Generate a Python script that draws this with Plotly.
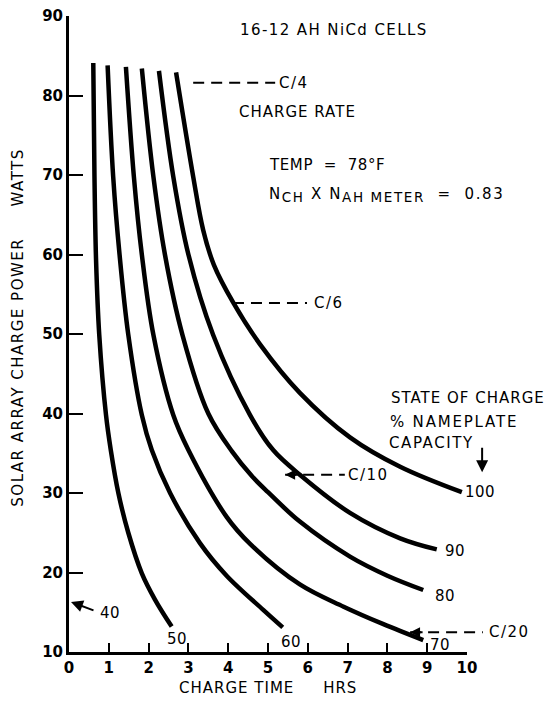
import plotly.graph_objects as go

# ---- data (charge time in hrs, power in watts) ----
soc_labels = ["50", "60", "70", "80", "90", "100"]

time_50 = [0.61, 0.64, 0.68, 0.76, 0.93, 1.05, 1.24, 1.49, 1.83, 2.16, 2.58]
power_50 = [84.1, 69.8, 59.3, 49.9, 39.8, 35.4, 30.0, 25.0, 19.9, 16.6, 13.2]

time_60 = [0.97, 1.11, 1.27, 1.49, 1.83, 2.08, 2.54, 3.29, 3.96, 4.88, 5.37]
power_60 = [83.8, 69.8, 60.0, 49.9, 39.8, 35.4, 30.0, 23.7, 19.6, 15.3, 13.1]

time_70 = [1.43, 1.63, 1.83, 2.12, 2.62, 3.0, 3.96, 4.55, 5.8, 6.9, 7.9, 8.9]
power_70 = [83.6, 69.8, 60.0, 49.9, 39.8, 35.4, 27.0, 23.6, 18.5, 15.7, 13.5, 11.5]

time_80 = [1.83, 2.12, 2.41, 2.85, 3.5, 4.1, 4.6, 5.0, 5.8, 7.06, 8.0, 8.9]
power_80 = [83.4, 69.8, 60.0, 49.9, 40.0, 35.2, 32.1, 30.1, 26.4, 22.0, 19.6, 17.8]

time_90 = [2.26, 2.62, 3.0, 3.62, 4.55, 5.13, 5.8, 7.06, 8.32, 9.24]
power_90 = [83.1, 69.8, 60.0, 49.9, 39.8, 35.4, 32.3, 27.5, 24.3, 22.9]

time_100 = [2.69, 3.12, 3.37, 3.64, 4.12, 4.80, 5.80, 7.06, 8.32, 9.87]
power_100 = [82.9, 69.8, 63.1, 58.7, 54.0, 48.7, 42.6, 37.0, 33.3, 30.1]

# curve end labels (state of charge) positions
label_time = [2.71, 5.58, 9.32, 9.45, 9.70, 10.32]
label_power = [11.6, 11.3, 10.9, 17.0, 22.7, 30.1]

# charge-rate reference lines
rate_names = ["C/4", "C/6", "C/10", "C/20"]
rate_start = [3.12, 4.12, 5.43, 8.57]
rate_end = [5.18, 5.98, 6.93, 10.4]
rate_power = [81.6, 53.9, 32.3, 12.5]
rate_text_x = [5.22, 6.10, 6.96, 10.50]

x_ticks = list(range(0, 11))
y_ticks = list(range(10, 100, 10))

X_RANGE = [0, 10]
Y_RANGE = [10, 90]


def xp(x):
    return (x - X_RANGE[0]) / (X_RANGE[1] - X_RANGE[0])


def yp(y):
    return (y - Y_RANGE[0]) / (Y_RANGE[1] - Y_RANGE[0])


FONT = "DejaVu Sans"


def spaced(s, ls=1.5):
    return '<span style="letter-spacing:%.1fpx">%s</span>' % (ls, s)


fig = go.Figure()

curves = [
    (time_50, power_50), (time_60, power_60), (time_70, power_70),
    (time_80, power_80), (time_90, power_90), (time_100, power_100),
]
for (t, p), name in zip(curves, soc_labels):
    fig.add_trace(go.Scatter(
        x=t, y=p, mode="lines", name=name,
        line=dict(color="black", width=4.5, shape="spline", smoothing=1.0),
        hoverinfo="skip", showlegend=False,
    ))

annotations = []
shapes = []


def text(x, y, s, size=15, xanchor="left", ls=1.5):
    annotations.append(dict(
        x=xp(x), y=yp(y), xref="paper", yref="paper", text=spaced(s, ls),
        showarrow=False, xanchor=xanchor, yanchor="middle",
        font=dict(family=FONT, size=size, color="black"),
    ))


# state-of-charge labels at curve ends
for lab, tx, ty in zip(soc_labels, label_time, label_power):
    text(tx, ty, lab, size=15, xanchor="center", ls=0.5)

# "40" label with pointer to the axis
text(1.03, 14.9, "40", size=15, xanchor="center", ls=0.5)
annotations.append(dict(
    x=xp(0.05), y=yp(16.3), xref="paper", yref="paper", text="",
    showarrow=True, arrowhead=2, arrowsize=1.2, arrowwidth=2, arrowcolor="black",
    ax=24, ay=9,
))

# charge-rate dashed lines and labels
for name, x0, x1, yv, tx in zip(rate_names, rate_start, rate_end, rate_power, rate_text_x):
    shapes.append(dict(
        type="line", xref="paper", yref="paper",
        x0=xp(x0), x1=xp(x1), y0=yp(yv), y1=yp(yv),
        line=dict(color="black", width=2, dash="11px,7px"),
    ))
    text(tx, yv, name, size=15)

# small arrowheads at the left end of C/10 and C/20 lines
for x0, yv in [(rate_start[2], rate_power[2]), (rate_start[3], rate_power[3])]:
    annotations.append(dict(
        x=xp(x0), y=yp(yv), xref="paper", yref="paper", text="",
        showarrow=True, arrowhead=2, arrowsize=1, arrowwidth=2, arrowcolor="black",
        ax=14, ay=0,
    ))

text(4.25, 88.2, "16-12 AH NiCd CELLS", size=15, ls=1.4)
text(4.22, 77.9, "CHARGE RATE", size=15, ls=1.0)
text(4.98, 71.3, "TEMP  =  78°F", size=15, ls=0.6)
annotations.append(dict(
    x=xp(4.98), y=yp(67.5), xref="paper", yref="paper", showarrow=False,
    xanchor="left", yanchor="middle",
    text='<span style="letter-spacing:1.6px">N<sub><span style="font-size:13.5px">CH</span></sub>'
         ' X N<sub><span style="font-size:13.5px">AH METER</span></sub>  =  0.83</span>',
    font=dict(family=FONT, size=15, color="black"),
))
text(8.05, 42.0, "STATE OF CHARGE", size=15, ls=1.0)
text(8.02, 38.9, "% NAMEPLATE", size=15, ls=1.8)
text(7.99, 36.3, "CAPACITY", size=15, ls=1.6)

# downward arrow under CAPACITY
annotations.append(dict(
    x=xp(10.38), y=yp(32.6), xref="paper", yref="paper", text="",
    showarrow=True, arrowhead=2, arrowsize=1.2, arrowwidth=2, arrowcolor="black",
    ax=0, ay=-26,
))

# axis titles
annotations.append(dict(
    x=-0.128, y=0.51, xref="paper", yref="paper", showarrow=False,
    text=spaced("SOLAR ARRAY CHARGE POWER" + "\u00a0" * 5 + "WATTS", 1.5),
    textangle=-90, xanchor="center", yanchor="middle",
    font=dict(family=FONT, size=15, color="black"),
))
annotations.append(dict(
    x=0.5, y=-0.057, xref="paper", yref="paper", showarrow=False,
    text=spaced("CHARGE TIME" + "\u00a0" * 5 + "HRS", 1.0),
    xanchor="center", yanchor="middle",
    font=dict(family=FONT, size=15, color="black"),
))

# the page body adds an 8px offset, so the figure is 8px smaller than the window
fig.update_layout(
    width=547, height=701,
    margin=dict(l=61, r=88, t=8, b=57, autoexpand=False),
    plot_bgcolor="white", paper_bgcolor="white",
    showlegend=False,
    annotations=annotations,
    shapes=shapes,
    xaxis=dict(
        range=X_RANGE, tickvals=x_ticks, ticktext=[str(v) for v in x_ticks],
        ticks="inside", ticklen=9, tickwidth=2, tickcolor="black",
        showline=True, linewidth=3, linecolor="black",
        showgrid=False, zeroline=False, ticklabeloverflow="allow",
        automargin=False,
        tickfont=dict(family=FONT, size=15, color="black", weight="bold"),
    ),
    yaxis=dict(
        range=Y_RANGE, tickvals=y_ticks, ticktext=[str(v) for v in y_ticks],
        ticks="inside", ticklen=14, tickwidth=2, tickcolor="black",
        showline=True, linewidth=3, linecolor="black",
        showgrid=False, zeroline=False, ticklabeloverflow="allow",
        automargin=False,
        tickfont=dict(family=FONT, size=15, color="black", weight="bold"),
    ),
)

fig.write_html("out.html")
